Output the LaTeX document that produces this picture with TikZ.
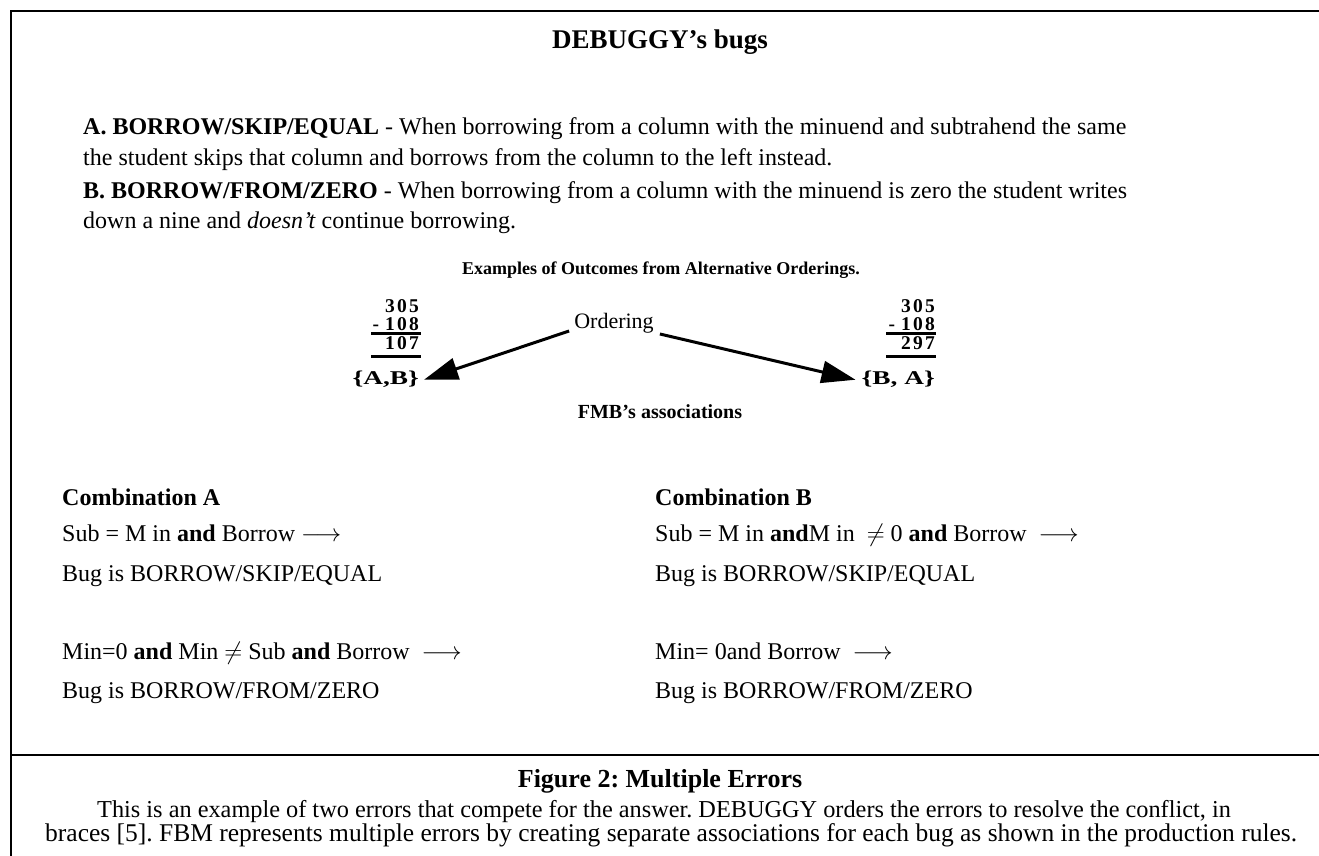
\documentclass[tikz,border=0pt]{standalone}
\usepackage{fontspec}
\setmainfont{Liberation Serif}
\usetikzlibrary{arrows.meta}
\frenchspacing

\tikzset{
  frameline/.style={line width=2.6pt, black},
  txt/.style={inner sep=0pt, anchor=base west, font=\fontsize{24}{28}\selectfont},
  head/.style={inner sep=0pt, anchor=base, font=\fontsize{27}{32}\selectfont\bfseries},
  scan/.style={inner sep=0pt, anchor=base, font=\fontsize{18}{22}\selectfont\bfseries},
  digits/.style={inner sep=0pt, anchor=base east, font=\fontsize{19.5}{24}\selectfont\bfseries},
  orderlbl/.style={inner sep=0pt, anchor=base, font=\fontsize{22}{26}\selectfont},
  sumrule/.style={line width=2.4pt},
  bigarrow/.style={line width=3pt, -{Triangle[length=34pt,width=22pt]}},
  capt/.style={inner sep=0pt, anchor=base west, font=\fontsize{24.3}{24}\selectfont},
}
\newcommand{\dg}{\hspace{2.2pt}}

\begin{document}
\begin{tikzpicture}[x=1pt,y=-1pt]
\useasboundingbox (0,0) rectangle (1319,856);

% frame and caption separator
\draw[frameline] (11,856) -- (11,11) -- (1319,11);
\draw[frameline] (11,755) -- (1319,755);

% title
\node[head] (title) at (660,49) {DEBUGGY’s bugs};

% bug descriptions
\node[txt] (a1) at (83,135) {\textbf{A. BORROW/SKIP/EQUAL} - When borrowing from a column with the minuend and subtrahend the same};
\node[txt] (a2) at (83,165) {the student skips that column and borrows from the column to the left instead.};
\node[txt] (b1) at (83,198) {\textbf{B. BORROW/FROM/ZERO} - When borrowing from a column with the minuend is zero the student writes};
\node[txt] (b2) at (83,228) {down a nine and \textit{doesn’t} continue borrowing.};

% worked example
\node[scan] (ex) at (661,274) {Examples of Outcomes from Alternative Orderings.};

\node[digits] (l1) at (419,312) {3\dg0\dg5};
\node[digits] (l2) at (419,330) {-\hspace{6pt}1\dg0\dg8};
\node[digits] (l3) at (419,349) {1\dg0\dg7};
\node[digits] (lab) at (419,384) {\scalebox{1.4}[1]{\{A,B\}}};
\draw[sumrule] (371,333.5) -- (421,333.5);
\draw[sumrule] (371,356.5) -- (421,356.5);

\node[digits] (r1) at (935,312) {3\dg0\dg5};
\node[digits] (r2) at (935,330) {-\hspace{6pt}1\dg0\dg8};
\node[digits] (r3) at (935,349) {2\dg9\dg7};
\node[digits] (rab) at (935,384) {\scalebox{1.4}[1]{\{B, A\}}};
\draw[sumrule] (886,333.5) -- (936,333.5);
\draw[sumrule] (886,356.5) -- (936,356.5);

\node[orderlbl] (ord) at (614,328) {Ordering};
\draw[bigarrow] ([xshift=-5pt,yshift=-3pt]ord.base west) -- ([xshift=5pt,yshift=-1pt]lab.east);
\draw[bigarrow] ([xshift=6pt,yshift=-6pt]ord.base east) -- ([xshift=-6pt,yshift=-1pt]rab.west);

\node[scan, font=\fontsize{20}{24}\selectfont\bfseries] (fmb) at (660,418) {FMB’s associations};

% production rules, combination A
\node[txt] (ca) at (62,505) {\textbf{Combination A}};
\node[txt] (ca1) at (62,541) {Sub = M in \textbf{and} Borrow $\longrightarrow$};
\node[txt] (ca2) at (62,581) {Bug is BORROW/SKIP/EQUAL};
\node[txt] (ca3) at (62,659) {Min=0 \textbf{and} Min $\neq$\ Sub \textbf{and} Borrow \ $\longrightarrow$};
\node[txt] (ca4) at (62,698) {Bug is BORROW/FROM/ZERO};

% production rules, combination B
\node[txt] (cb) at (655,505) {\textbf{Combination B}};
\node[txt] (cb1) at (655,541) {Sub = M in \textbf{and}M in \ $\neq$\ 0 \textbf{and} Borrow \ $\longrightarrow$};
\node[txt] (cb2) at (655,581) {Bug is BORROW/SKIP/EQUAL};
\node[txt] (cb3) at (655,659) {Min= 0and Borrow \ $\longrightarrow$};
\node[txt] (cb4) at (655,698) {Bug is BORROW/FROM/ZERO};

% figure caption
\node[head, font=\fontsize{26}{30}\selectfont\bfseries] (fig) at (660,787) {Figure 2: Multiple Errors};
\node[capt] (c1) at (97,817) {This is an example of two errors that compete for the answer. DEBUGGY orders the errors to resolve the conflict, in};
\node[capt, font=\fontsize{25.5}{24}\selectfont] (c2) at (45,841) {braces [5]. FBM represents multiple errors by creating separate associations for each bug as shown in the production rules.};
\end{tikzpicture}
\end{document}
